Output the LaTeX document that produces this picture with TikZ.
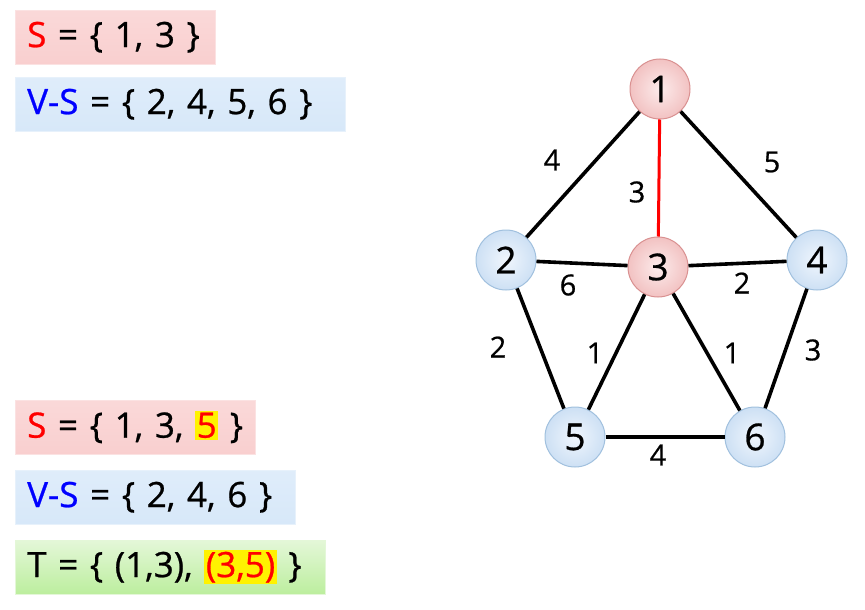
\documentclass[tikz,border=0pt]{standalone}
\usepackage{fontspec}
\setmainfont[FakeBold=0.7]{Open Sans}
\usetikzlibrary{positioning}

\definecolor{pinkin}{HTML}{FCEBEB}
\definecolor{pinkout}{HTML}{F2C2C2}
\definecolor{pinkline}{HTML}{D99090}
\definecolor{bluein}{HTML}{F0F6FD}
\definecolor{blueout}{HTML}{CDE0F4}
\definecolor{blueline}{HTML}{A0C0DE}
\definecolor{setpink}{HTML}{F9CFCF}
\definecolor{setblue}{HTML}{D7E8F9}
\definecolor{setgreentop}{HTML}{E4F7D8}
\definecolor{setgreenbot}{HTML}{BCEE9E}

\newcommand{\hilite}[1]{{\setlength{\fboxsep}{1.5pt}\colorbox{yellow}{\color{red}#1}}}

\begin{document}
\begin{tikzpicture}[x=1pt,y=-1pt]
  \tikzset{
    inS/.style={
      circle,
      shading=radial,
      inner color=pinkin,
      outer color=pinkout,
      draw=pinkline,
      line width=1pt,
      minimum size=60pt,
      inner sep=0pt,
      font=\fontsize{37}{40}\selectfont},
    outS/.style={
      inS,
      inner color=bluein,
      outer color=blueout,
      draw=blueline},
    wt/.style={
      font=\fontsize{29}{32}\selectfont,
      inner sep=0pt},
    setbox/.style={
      rectangle,
      anchor=north west,
      minimum height=54pt,
      inner xsep=12pt,
      inner ysep=0pt,
      align=left,
      font=\fontsize{35}{38}\selectfont},
    pinkset/.style={
      setbox,
      top color=setpink!80,
      bottom color=setpink,
      draw=setpink!60},
    blueset/.style={
      setbox,
      top color=setblue!80,
      bottom color=setblue,
      draw=setblue!60},
    greenset/.style={
      setbox,
      top color=setgreentop,
      bottom color=setgreenbot,
      draw=setgreentop}}

  \useasboundingbox (0,0) rectangle (865,610);

  % sets
  \node[pinkset, text width=176pt] (s1) at (15,10) {\mbox{\textcolor{red}{S} = \{ 1, 3 \}}};
  \node[blueset, text width=306pt] (vs1) at (15,77) {\mbox{\textcolor{blue}{V-S} = \{ 2, 4, 5, 6 \}}};
  \node[pinkset, text width=216pt] (s2) at (15,400) {\mbox{\textcolor{red}{S} = \{ 1, 3, \hilite{5} \}}};
  \node[blueset, text width=256pt] (vs2) at (15,470) {\mbox{\textcolor{blue}{V-S} = \{ 2, 4, 6 \}}};
  \node[greenset, text width=286pt] (t2) at (15,540) {\mbox{T = \{ (1,3), \hilite{(3,5)} \}}};

  % graph
  \node[inS] (v1) at (660,89) {1};
  \node[outS] (v2) at (506,260) {2};
  \node[inS] (v3) at (658,267) {3};
  \node[outS] (v4) at (817,260) {4};
  \node[outS] (v5) at (575,437) {5};
  \node[outS] (v6) at (755,437) {6};

  \path[line width=3.6pt] (v1) edge (v2);
  \path[line width=3.6pt] (v1) edge (v4);
  \path[line width=3.6pt] (v2) edge (v3);
  \path[line width=3.6pt] (v3) edge (v4);
  \path[line width=3.6pt] (v2) edge (v5);
  \path[line width=3.6pt] (v3) edge (v5);
  \path[line width=3.6pt] (v3) edge (v6);
  \path[line width=3.6pt] (v4) edge (v6);
  \path[line width=3.6pt] (v5) edge (v6);
  \path[line width=3pt, red] (v1) edge (v3);

  \node[wt] (w12) at (552,160) {4};
  \node[wt] (w13) at (637,192) {3};
  \node[wt] (w14) at (772,162) {5};
  \node[wt] (w23) at (568,285) {6};
  \node[wt] (w34) at (742,283) {2};
  \node[wt] (w25) at (498,347) {2};
  \node[wt] (w35) at (595,353) {1};
  \node[wt] (w36) at (732,353) {1};
  \node[wt] (w46) at (813,350) {3};
  \node[wt] (w56) at (658,455) {4};

\end{tikzpicture}
\end{document}
